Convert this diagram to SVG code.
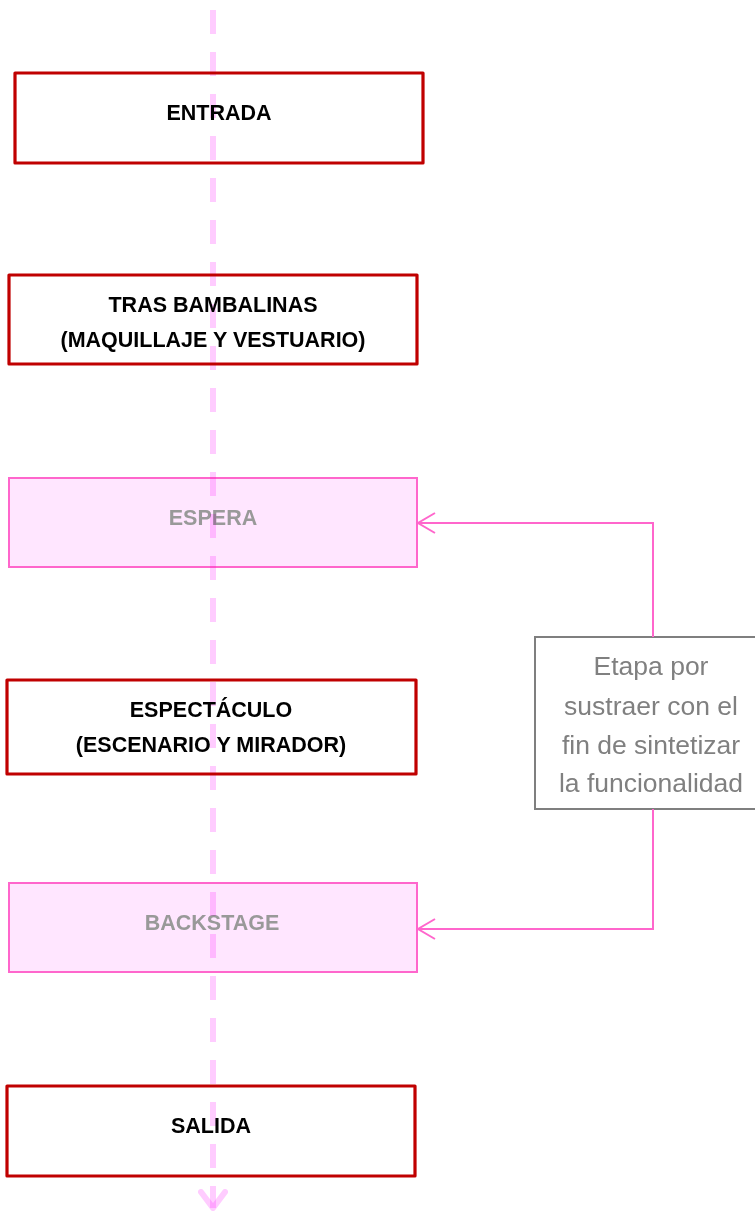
<svg xmlns="http://www.w3.org/2000/svg" width="755" height="1213" viewBox="0 0 755 1213">
<style>
.main rect{fill:none;stroke:#c00000;stroke-width:3.2;stroke-linejoin:round}
.main text{font-family:"Liberation Sans",Arial,sans-serif;font-weight:bold;font-size:21.5px;fill:#000;text-anchor:middle}
.sub rect{fill:#ffe6ff;stroke:#ff66cc;stroke-width:2}
.sub text{font-family:"Liberation Sans",Arial,sans-serif;font-weight:bold;font-size:21.5px;fill:#999;text-anchor:middle}
.note rect{fill:#fff;stroke:#7f7f7f;stroke-width:2}
.note text{font-family:"Liberation Sans",Arial,sans-serif;font-size:26.5px;fill:#808080;text-anchor:middle}
.link{fill:none;stroke:#ff66cc;stroke-width:2}
.flow{fill:none;stroke:#ffccff;stroke-width:6;mix-blend-mode:multiply}
</style>
<rect width="755" height="1213" fill="#fff"/>
<g id="entrada" class="main">
<rect x="15" y="73" width="408" height="90"/>
<text x="219" y="120">ENTRADA</text>
</g>
<g id="tras-bambalinas" class="main">
<rect x="9" y="275" width="408" height="89"/>
<text x="213" y="312">TRAS BAMBALINAS</text>
<text x="213" y="347">(MAQUILLAJE Y VESTUARIO)</text>
</g>
<g id="espera" class="sub">
<rect x="9" y="478" width="408" height="89"/>
<text x="213" y="525">ESPERA</text>
</g>
<g id="espectaculo" class="main">
<rect x="7" y="680" width="409" height="94"/>
<text x="211" y="717">ESPECTÁCULO</text>
<text x="211" y="752">(ESCENARIO Y MIRADOR)</text>
</g>
<g id="backstage" class="sub">
<rect x="9" y="883" width="408" height="89"/>
<text x="212" y="930">BACKSTAGE</text>
</g>
<g id="salida" class="main">
<rect x="7" y="1086" width="408" height="90"/>
<text x="211" y="1133">SALIDA</text>
</g>
<g id="nota" class="note">
<rect x="535" y="637" width="225" height="172"/>
<text x="651" y="675">Etapa por</text>
<text x="651" y="715">sustraer con el</text>
<text x="651" y="754">fin de sintetizar</text>
<text x="651" y="792">la funcionalidad</text>
</g>
<g id="connectors">
<path class="flow" d="M213 10 V1208" stroke-dasharray="24 18"/>
<path class="flow" d="M201 1192 L213 1208 L225 1192" stroke-width="5" stroke-linecap="round" stroke-linejoin="round"/>
<path class="link" d="M653 637 V523 H418"/>
<path class="link" d="M435 513 L418 523 L435 533"/>
<path class="link" d="M653 809 V929 H418"/>
<path class="link" d="M435 919 L418 929 L435 939"/>
</g>
</svg>
